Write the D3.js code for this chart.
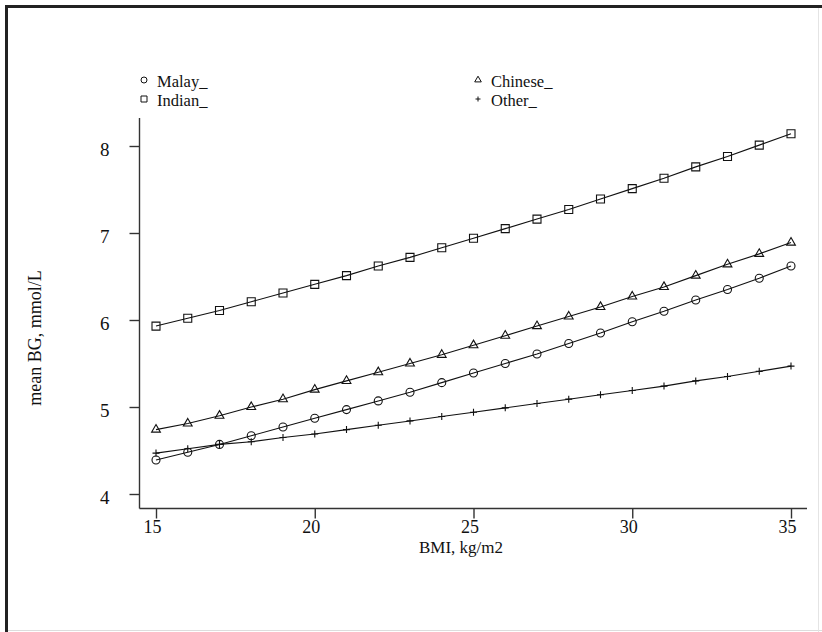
<!DOCTYPE html>
<html>
<head>
<meta charset="utf-8">
<script src="https://cdn.jsdelivr.net/npm/d3@7"></script>
<style>
  html, body { margin: 0; padding: 0; background: #ffffff; }
  svg { display: block; }
  text { font-family: "Liberation Serif", "DejaVu Serif", serif; fill: #111111; }
</style>
</head>
<body>
<div id="chart"></div>
<script>
// BMI values along the x axis
const bmi = [15, 16, 17, 18, 19, 20, 21, 22, 23, 24, 25, 26, 27, 28, 29, 30, 31, 32, 33, 34, 35];

// mean BG (mmol/L) per ethnic group
const malay = [4.39, 4.48, 4.57, 4.67, 4.77, 4.87, 4.97, 5.07, 5.17, 5.28, 5.39, 5.50, 5.61, 5.73, 5.85, 5.98, 6.10, 6.23, 6.35, 6.48, 6.62];
const chinese = [4.74, 4.81, 4.90, 5.00, 5.09, 5.20, 5.30, 5.40, 5.50, 5.60, 5.71, 5.82, 5.93, 6.04, 6.15, 6.27, 6.38, 6.51, 6.64, 6.76, 6.89];
const indian = [5.93, 6.02, 6.11, 6.21, 6.31, 6.41, 6.51, 6.62, 6.72, 6.83, 6.94, 7.05, 7.16, 7.27, 7.39, 7.51, 7.63, 7.76, 7.88, 8.01, 8.14];
const other = [4.47, 4.52, 4.57, 4.60, 4.65, 4.69, 4.74, 4.79, 4.84, 4.89, 4.94, 4.99, 5.04, 5.09, 5.14, 5.19, 5.24, 5.30, 5.35, 5.41, 5.47];

const xTicks = [15, 20, 25, 30, 35];
const yTicks = [4, 5, 6, 7, 8];

const seriesList = [
	{name: "Malay_", values: malay, marker: "circle"},
	{name: "Chinese_", values: chinese, marker: "triangle"},
	{name: "Indian_", values: indian, marker: "square"},
	{name: "Other_", values: other, marker: "plus"},
];

const width = 822;
const height = 632;
const ink = "#111111";

const svg = d3.select("#chart")
	.append("svg")
	.attr("width", width)
	.attr("height", height);

// scanned-page frame: heavy top/left edge, faint right/bottom edge
svg.append("rect").attr("x", 5).attr("y", 5).attr("width", 3).attr("height", height - 5).attr("fill", "#222");
svg.append("rect").attr("x", 5).attr("y", 5).attr("width", width - 5).attr("height", 3).attr("fill", "#222");
svg.append("line").attr("x1", 8).attr("x2", width).attr("y1", 630.5).attr("y2", 630.5).attr("stroke", "#dddddd");
svg.append("line").attr("x1", 818.5).attr("x2", 818.5).attr("y1", 8).attr("y2", height).attr("stroke", "#e4e4e4");

const x = d3.scaleLinear().domain([15, 35]).range([156, 791]);
const y = d3.scaleLinear().domain([4, 8]).range([494, 146]);

const axisLeftX = 139.5;
const axisBottomY = 508.5;

// Axes
const yAxis = svg.append("g")
	.attr("transform", `translate(${axisLeftX},0)`)
	.call(d3.axisLeft(y).tickValues(yTicks).tickSize(10).tickPadding(20).tickFormat(d3.format("d")));
yAxis.select(".domain").remove();
yAxis.append("line")
	.attr("x1", 0).attr("x2", 0)
	.attr("y1", 118).attr("y2", axisBottomY)
	.attr("stroke", "#333").attr("stroke-width", 1.4);
yAxis.selectAll(".tick line").attr("stroke", "#333").attr("stroke-width", 1.4);
yAxis.selectAll(".tick text")
	.attr("font-size", 19)
	.attr("font-family", "Liberation Serif")
	.attr("fill", ink)
	.attr("dy", "0.5em");

const xAxis = svg.append("g")
	.attr("transform", `translate(0,${axisBottomY})`)
	.call(d3.axisBottom(x).tickValues(xTicks).tickSize(10).tickPadding(2).tickFormat(d3.format("d")));
xAxis.select(".domain").remove();
xAxis.append("line")
	.attr("x1", axisLeftX).attr("x2", 807)
	.attr("y1", 0).attr("y2", 0)
	.attr("stroke", "#333").attr("stroke-width", 1.4);
xAxis.selectAll(".tick line").attr("stroke", "#333").attr("stroke-width", 1.4);
xAxis.selectAll(".tick text")
	.attr("font-size", 18)
	.attr("font-family", "Liberation Serif")
	.attr("fill", ink)
	.attr("dx", "-4");

// Axis titles
svg.append("text")
	.attr("x", 461)
	.attr("y", 553)
	.attr("text-anchor", "middle")
	.attr("font-size", 17)
	.text("BMI, kg/m2");

svg.append("text")
	.attr("transform", "translate(41,338) rotate(-90)")
	.attr("text-anchor", "middle")
	.attr("font-size", 18)
	.text("mean BG, mmol/L");

// marker paths
const markerPath = (type, s) => {
	switch (type) {
		case "circle":
			return d3.symbol(d3.symbolCircle, Math.PI * s * s)();
		case "square":
			return d3.symbol(d3.symbolSquare, 4 * s * s)();
		case "triangle": {
			const side = s * 2.2;
			return d3.symbol(d3.symbolTriangle, (Math.sqrt(3) / 4) * side * side)();
		}
		case "plus":
			return `M${-s},0H${s}M0,${-s}V${s}`;
	}
};

const line = d3.line()
	.x((d) => x(d[0]))
	.y((d) => y(d[1]));

const plot = svg.append("g");

seriesList.forEach((series) => {
	const pts = bmi.map((b, i) => [b, series.values[i]]);

	plot.append("path")
		.datum(pts)
		.attr("fill", "none")
		.attr("stroke", ink)
		.attr("stroke-width", 1.1)
		.attr("d", line);

	plot.append("g")
		.selectAll("path")
		.data(pts)
		.enter()
		.append("path")
		.attr("transform", (d) => `translate(${x(d[0])},${y(d[1])})`)
		.attr("d", markerPath(series.marker, series.marker === "plus" ? 3.5 : 4))
		.attr("fill", "none")
		.attr("stroke", ink)
		.attr("stroke-width", 1.1);
});

// Legend (two columns)
const legendPos = {
	"Malay_": [144, 80],
	"Indian_": [144, 99],
	"Chinese_": [478, 80],
	"Other_": [478, 99],
};

const legend = svg.append("g");
seriesList.forEach((series) => {
	const [lx, ly] = legendPos[series.name];
	legend.append("path")
		.attr("transform", `translate(${lx},${ly})`)
		.attr("d", markerPath(series.marker, series.marker === "plus" ? 2.5 : 3))
		.attr("fill", "none")
		.attr("stroke", ink)
		.attr("stroke-width", 1);
	legend.append("text")
		.attr("x", lx + 13)
		.attr("y", ly + 7)
		.attr("font-size", 16.5)
		.text(series.name);
});
</script>
</body>
</html>
